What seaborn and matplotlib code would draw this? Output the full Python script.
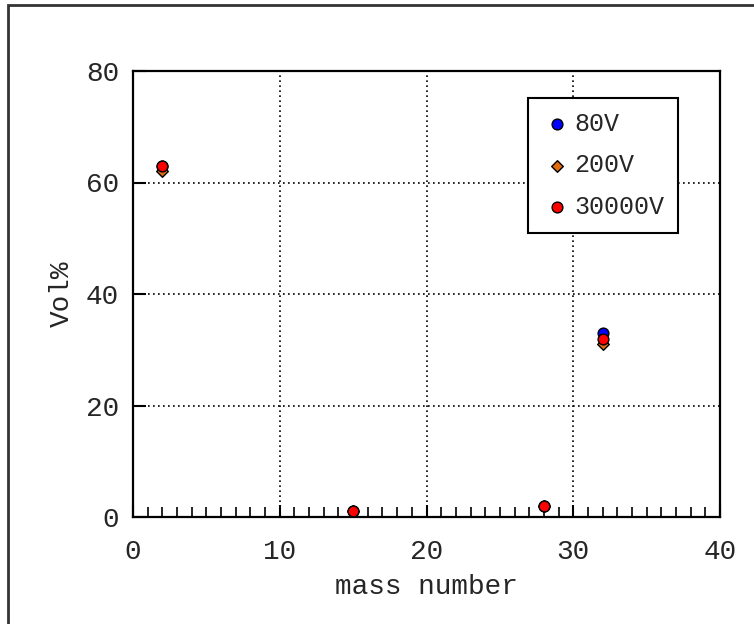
import matplotlib
matplotlib.use('Agg')
import matplotlib.pyplot as plt
from matplotlib.patches import Rectangle
from matplotlib.ticker import MultipleLocator
import pandas as pd
import seaborn as sns

# values
mass = [2, 15, 28, 32]
vol_80v = [63, 1, 2, 33]
vol_200v = [62, 1, 2, 31]
vol_30000v = [63, 1, 2, 32]
series = ['80V', '200V', '30000V']

df = pd.concat([
    pd.DataFrame({'mass number': mass, 'Vol%': v, 'voltage': s})
    for s, v in zip(series, [vol_80v, vol_200v, vol_30000v])
])

sns.set_style('white')
plt.rcParams['font.family'] = ['Liberation Mono', 'DejaVu Sans Mono']

colors = {'80V': '#0000ff', '200V': '#e06c10', '30000V': '#ff0000'}
markers = {'80V': 'o', '200V': 'D', '30000V': 'o'}
sizes = {'80V': 60, '200V': 35, '30000V': 60}

fig = plt.figure(figsize=(7.54, 6.24), dpi=100, facecolor='white')
ax = fig.add_axes([133 / 754, 1 - 517 / 624, 587 / 754, 446 / 624])

for s in series:
    sns.scatterplot(
        data=df[df.voltage == s], x='mass number', y='Vol%',
        color=colors[s], marker=markers[s], s=sizes[s],
        edgecolor='black', linewidth=1, label=s, ax=ax, zorder=3
    )

ax.set_xlim(0, 40)
ax.set_ylim(0, 80)
ax.xaxis.set_major_locator(MultipleLocator(10))
ax.xaxis.set_minor_locator(MultipleLocator(1))
ax.yaxis.set_major_locator(MultipleLocator(20))
ax.tick_params(axis='both', which='both', bottom=True, left=True,
               top=False, right=False, direction='in', color='black')
ax.tick_params(axis='both', which='major', length=9, width=1.5, labelsize=20)
ax.tick_params(axis='x', which='major', pad=16)
ax.tick_params(axis='y', which='major', pad=10)
ax.tick_params(axis='x', which='minor', length=7.5, width=1.2)
ax.grid(True, which='major', color='black', linestyle=(0, (1, 2)), linewidth=1.2)
for sp in ax.spines.values():
    sp.set_color('black')
    sp.set_linewidth(1.6)
    sp.set_visible(True)

ax.set_xlabel('mass number', fontsize=20, labelpad=6)
ax.set_ylabel('Vol%', fontsize=20, labelpad=8)

leg = ax.legend(loc='upper left', bbox_to_anchor=(395 / 587, 419 / 446),
                borderaxespad=0, fontsize=18, frameon=True, fancybox=False,
                handletextpad=0.1, handlelength=1.2, labelspacing=0.7,
                borderpad=0.55, markerscale=1.0)
leg.get_frame().set_edgecolor('black')
leg.get_frame().set_linewidth(1.5)
leg.get_frame().set_alpha(1)

# outer frame of the figure
fig.patches.append(Rectangle((8 / 754, -0.1), 1.2, 1 - 5 / 624 + 0.1,
                             transform=fig.transFigure, fill=False,
                             edgecolor='#333333', linewidth=2))

fig.savefig('out.png', dpi=100)
